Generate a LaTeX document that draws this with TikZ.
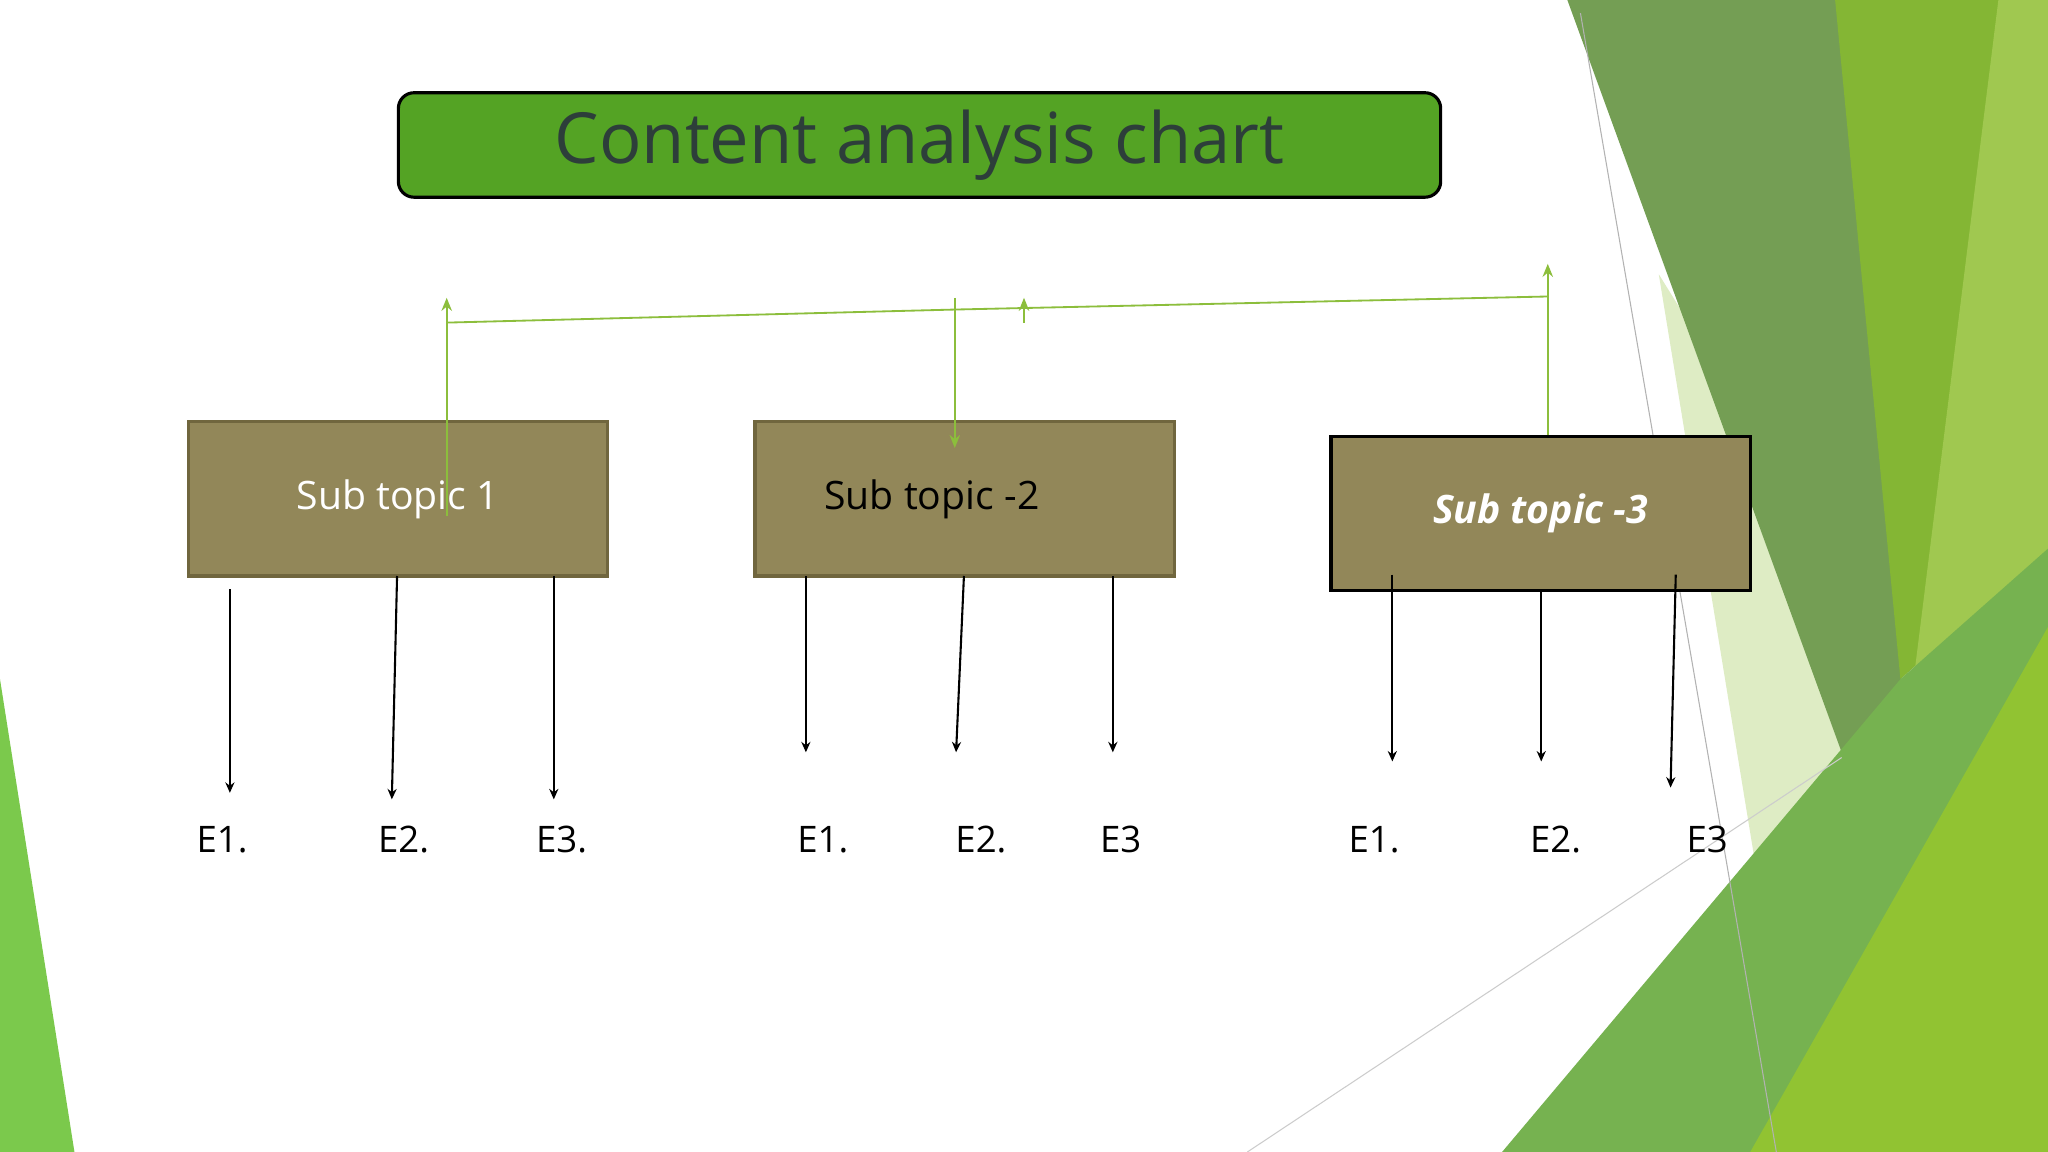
\documentclass[tikz,border=0pt]{standalone}
\usepackage{fontspec}
\setmainfont{Open Sans}
\usetikzlibrary{arrows.meta}
\definecolor{titlegreen}{RGB}{84,163,36}
\definecolor{titleink}{RGB}{45,62,58}
\definecolor{boxfill}{RGB}{146,135,89}
\definecolor{boxedge}{RGB}{112,102,62}
\definecolor{linkgreen}{RGB}{140,190,60}
\tikzset{
  subbox/.style={draw=boxedge,line width=1.2pt,fill=boxfill,minimum width=160.5pt,minimum height=59pt,font=\fontsize{15}{18}\selectfont},
  leaf/.style={font=\fontsize{14}{17}\selectfont},
  down/.style={-{Stealth[length=4pt,width=3.5pt]},line width=0.8pt},
  link/.style={linkgreen,line width=0.7pt},
  linkarrow/.style={link,-{Stealth[length=5pt,width=4pt]}}
}
\begin{document}
\begin{tikzpicture}[x=0.5pt,y=0.5pt,yscale=-1]
\useasboundingbox (0,0) rectangle (1568,882);
\fill[white] (0,0) rectangle (1568,882);

% background
\fill[green!50!lime!70!black!70] (0,520) -- (0,882) -- (57,882) -- cycle;
\fill[fill={rgb,255:red,222;green,236;blue,196}] (1270,210) -- (1500,580) -- (1180,882) -- (1380,882) -- cycle;
\fill[fill={rgb,255:red,116;green,158;blue,84}] (1200,0) -- (1530,0) -- (1437,650) -- cycle;
\fill[fill={rgb,255:red,132;green,182;blue,52}] (1405,0) -- (1568,0) -- (1568,420) -- (1455,520) -- cycle;
\fill[fill={rgb,255:red,160;green,200;blue,80}] (1530,0) -- (1568,0) -- (1568,882) -- (1420,882) -- cycle;
\fill[fill={rgb,255:red,118;green,178;blue,80}] (1150,882) -- (1455,520) -- (1568,420) -- (1568,882) -- cycle;
\fill[fill={rgb,255:red,145;green,195;blue,50}] (1340,882) -- (1568,480) -- (1568,882) -- cycle;
\draw[gray!60,line width=0.4pt] (1210,10) -- (1360,882);
\draw[gray!40,line width=0.4pt] (955,882) -- (1410,580);

% title
\node[draw=black,line width=1.2pt,fill=titlegreen,rounded corners=6pt,minimum width=399pt,minimum height=40pt,text=titleink,font=\fontsize{27}{32}\selectfont] (title) at (704,111) {Content analysis chart};

% sub topics
\node[subbox,text=white] (sub1) at (304.5,382) {Sub topic 1};
\node[subbox,text=black] (sub2) at (738.5,382) {\hspace*{-25pt}Sub topic -2};
\node[subbox,draw=black,text=white,font=\fontsize{15}{18}\selectfont\itshape\bfseries] (sub3) at (1179.5,393) {Sub topic -3};

% green links
\coordinate (l1) at (342,247);
\coordinate (l2) at (731,237);
\coordinate (l3) at (784,236);
\coordinate (l4) at (1185,227);
\draw[link] (l1) -- (l2) -- (l4);
\draw[linkarrow] (342,395) -- (342,228);
\draw[linkarrow] (731,228) -- (731,343);
\draw[linkarrow] (784,247) -- (784,228);
\draw[linkarrow] (sub3.north -| l4) -- (1185,202);

% leaves
\node[leaf] (a1) at (170,643) {E1.};
\node[leaf] (a2) at (309,643) {E2.};
\node[leaf] (a3) at (430,643) {E3.};
\node[leaf] (b1) at (630,643) {E1.};
\node[leaf] (b2) at (751,643) {E2.};
\node[leaf] (b3) at (858,643) {E3};
\node[leaf] (c1) at (1052,643) {E1.};
\node[leaf] (c2) at (1191,643) {E2.};
\node[leaf] (c3) at (1307,643) {E3};

% arrows down
\draw[down] (176,451) -- (176,607);
\draw[down] (304,441) -- (300,612);
\draw[down] (424,441) -- (424,612);
\draw[down] (617,441) -- (617,576);
\draw[down] (738,441) -- (732,576);
\draw[down] (852,441) -- (852,576);
\draw[down] (1066,440) -- (1066,583);
\draw[down] (1180,452) -- (1180,583);
\draw[down] (1283,440) -- (1279,603);
\end{tikzpicture}
\end{document}
